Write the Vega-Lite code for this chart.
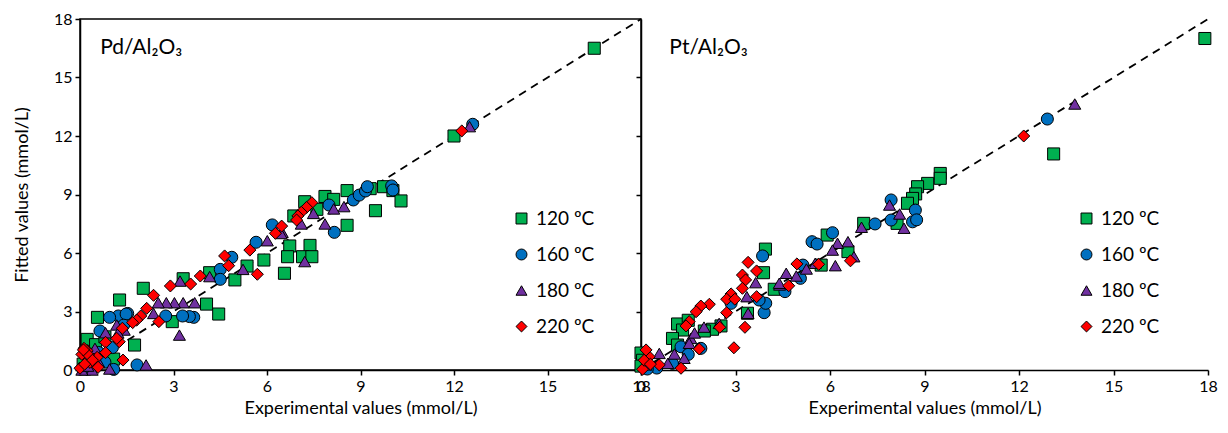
{
  "$schema": "https://vega.github.io/schema/vega-lite/v6.json",
  "background": "white",
  "padding": {"left": 12, "top": 10, "right": 5, "bottom": 5},
  "spacing": 0,
  "bounds": "flush",
  "config": {
    "view": {"stroke": null},
    "font": "Lato",
    "axis": {
      "grid": false,
      "domainColor": "black",
      "domainWidth": 1.5,
      "tickColor": "black",
      "tickWidth": 1.5,
      "tickSize": 5,
      "labelColor": "black",
      "labelFont": "Lato",
      "labelFontSize": 16,
      "labelPadding": 3,
      "labelFlush": false,
      "labelOverlap": false,
      "titleFont": "Lato",
      "titleFontSize": 18,
      "titleFontWeight": "normal",
      "titleColor": "black"
    },
    "legend": {
      "orient": "none",
      "title": null,
      "padding": 0,
      "labelFont": "Lato",
      "labelFontSize": 19,
      "labelColor": "black",
      "labelOffset": 5,
      "symbolSize": 120,
      "symbolStrokeColor": "black",
      "symbolStrokeWidth": 1,
      "rowPadding": 16
    }
  },
  "datasets": {
    "diag": [{"x": 0, "y": 0}, {"x": 18, "y": 18}],
    "pd": [
      {"T": "120 ºC", "x": 16.5, "y": 16.5}, {"T": "120 ºC", "x": 12.0, "y": 12.0}, {"T": "120 ºC", "x": 8.57, "y": 9.2}, {"T": "120 ºC", "x": 9.31, "y": 9.3}, {"T": "120 ºC", "x": 9.74, "y": 9.4}, {"T": "120 ºC", "x": 10.04, "y": 9.2}, {"T": "120 ºC", "x": 10.3, "y": 8.67}, {"T": "120 ºC", "x": 9.48, "y": 8.17}, {"T": "120 ºC", "x": 7.86, "y": 8.9}, {"T": "120 ºC", "x": 8.14, "y": 8.75}, {"T": "120 ºC", "x": 7.21, "y": 8.63}, {"T": "120 ºC", "x": 7.6, "y": 8.24}, {"T": "120 ºC", "x": 6.86, "y": 7.9}, {"T": "120 ºC", "x": 8.57, "y": 7.42}, {"T": "120 ºC", "x": 6.73, "y": 6.36}, {"T": "120 ºC", "x": 7.38, "y": 6.39}, {"T": "120 ºC", "x": 6.66, "y": 5.81}, {"T": "120 ºC", "x": 7.14, "y": 5.81}, {"T": "120 ºC", "x": 7.44, "y": 5.81}, {"T": "120 ºC", "x": 6.56, "y": 4.96}, {"T": "120 ºC", "x": 5.9, "y": 5.64}, {"T": "120 ºC", "x": 5.36, "y": 5.33}, {"T": "120 ºC", "x": 4.97, "y": 4.62}, {"T": "120 ºC", "x": 4.16, "y": 4.99}, {"T": "120 ºC", "x": 4.06, "y": 3.38}, {"T": "120 ºC", "x": 4.45, "y": 2.87}, {"T": "120 ºC", "x": 2.96, "y": 2.48}, {"T": "120 ºC", "x": 3.31, "y": 4.68}, {"T": "120 ºC", "x": 2.03, "y": 4.19}, {"T": "120 ºC", "x": 1.27, "y": 3.59}, {"T": "120 ºC", "x": 0.56, "y": 2.7}, {"T": "120 ºC", "x": 0.23, "y": 1.57}, {"T": "120 ºC", "x": 1.75, "y": 1.28}, {"T": "120 ºC", "x": 1.08, "y": 0.56}, {"T": "120 ºC", "x": 0.5, "y": 1.3}, {"T": "120 ºC", "x": 0.3, "y": 0.8}, {"T": "120 ºC", "x": 0.1, "y": 0.3}, {"T": "120 ºC", "x": 0.8, "y": 1.7}, {"T": "120 ºC", "x": 0.15, "y": 0.05},
      {"T": "160 ºC", "x": 12.6, "y": 12.6}, {"T": "160 ºC", "x": 8.77, "y": 8.72}, {"T": "160 ºC", "x": 8.96, "y": 8.97}, {"T": "160 ºC", "x": 9.16, "y": 9.18}, {"T": "160 ºC", "x": 9.22, "y": 9.4}, {"T": "160 ºC", "x": 10.0, "y": 9.44}, {"T": "160 ºC", "x": 10.04, "y": 9.23}, {"T": "160 ºC", "x": 7.99, "y": 8.46}, {"T": "160 ºC", "x": 8.16, "y": 7.06}, {"T": "160 ºC", "x": 6.17, "y": 7.44}, {"T": "160 ºC", "x": 5.65, "y": 6.55}, {"T": "160 ºC", "x": 4.87, "y": 5.78}, {"T": "160 ºC", "x": 4.5, "y": 5.16}, {"T": "160 ºC", "x": 4.5, "y": 4.65}, {"T": "160 ºC", "x": 3.65, "y": 2.7}, {"T": "160 ºC", "x": 3.51, "y": 2.74}, {"T": "160 ºC", "x": 3.29, "y": 2.77}, {"T": "160 ºC", "x": 2.75, "y": 2.77}, {"T": "160 ºC", "x": 1.53, "y": 2.9}, {"T": "160 ºC", "x": 1.23, "y": 2.77}, {"T": "160 ºC", "x": 0.95, "y": 2.7}, {"T": "160 ºC", "x": 0.64, "y": 2.0}, {"T": "160 ºC", "x": 1.04, "y": 1.15}, {"T": "160 ºC", "x": 1.83, "y": 0.26}, {"T": "160 ºC", "x": 1.08, "y": 0.03}, {"T": "160 ºC", "x": 1.48, "y": 2.87}, {"T": "160 ºC", "x": 0.3, "y": 0.5}, {"T": "160 ºC", "x": 0.6, "y": 0.9}, {"T": "160 ºC", "x": 0.2, "y": 0.1}, {"T": "160 ºC", "x": 0.8, "y": 0.4}, {"T": "160 ºC", "x": 1.4, "y": 2.3},
      {"T": "180 ºC", "x": 12.5, "y": 12.48}, {"T": "180 ºC", "x": 8.47, "y": 8.38}, {"T": "180 ºC", "x": 8.14, "y": 8.26}, {"T": "180 ºC", "x": 7.86, "y": 7.49}, {"T": "180 ºC", "x": 7.49, "y": 8.03}, {"T": "180 ºC", "x": 7.1, "y": 7.49}, {"T": "180 ºC", "x": 7.21, "y": 5.56}, {"T": "180 ºC", "x": 6.49, "y": 7.06}, {"T": "180 ºC", "x": 6.01, "y": 6.63}, {"T": "180 ºC", "x": 5.23, "y": 5.16}, {"T": "180 ºC", "x": 4.16, "y": 4.79}, {"T": "180 ºC", "x": 3.21, "y": 4.56}, {"T": "180 ºC", "x": 3.68, "y": 3.45}, {"T": "180 ºC", "x": 3.31, "y": 3.45}, {"T": "180 ºC", "x": 3.03, "y": 3.45}, {"T": "180 ºC", "x": 2.77, "y": 3.45}, {"T": "180 ºC", "x": 2.51, "y": 3.45}, {"T": "180 ºC", "x": 2.36, "y": 2.9}, {"T": "180 ºC", "x": 3.19, "y": 1.79}, {"T": "180 ºC", "x": 1.42, "y": 2.05}, {"T": "180 ºC", "x": 1.18, "y": 2.31}, {"T": "180 ºC", "x": 0.82, "y": 1.91}, {"T": "180 ºC", "x": 0.48, "y": 1.11}, {"T": "180 ºC", "x": 2.12, "y": 0.26}, {"T": "180 ºC", "x": 0.95, "y": 0.05}, {"T": "180 ºC", "x": 0.39, "y": 0.0}, {"T": "180 ºC", "x": 0.06, "y": 0.0}, {"T": "180 ºC", "x": 1.22, "y": 1.9}, {"T": "180 ºC", "x": 0.6, "y": 0.4}, {"T": "180 ºC", "x": 0.25, "y": 0.2}, {"T": "180 ºC", "x": 6.45, "y": 7.0},
      {"T": "220 ºC", "x": 12.25, "y": 12.26}, {"T": "220 ºC", "x": 7.44, "y": 8.58}, {"T": "220 ºC", "x": 7.27, "y": 8.34}, {"T": "220 ºC", "x": 7.1, "y": 8.09}, {"T": "220 ºC", "x": 6.99, "y": 7.9}, {"T": "220 ºC", "x": 6.95, "y": 7.69}, {"T": "220 ºC", "x": 6.47, "y": 7.38}, {"T": "220 ºC", "x": 6.27, "y": 7.01}, {"T": "220 ºC", "x": 5.45, "y": 6.15}, {"T": "220 ºC", "x": 4.64, "y": 5.85}, {"T": "220 ºC", "x": 4.77, "y": 5.35}, {"T": "220 ºC", "x": 5.69, "y": 4.91}, {"T": "220 ºC", "x": 3.55, "y": 4.41}, {"T": "220 ºC", "x": 3.86, "y": 4.82}, {"T": "220 ºC", "x": 2.9, "y": 4.31}, {"T": "220 ºC", "x": 2.36, "y": 3.83}, {"T": "220 ºC", "x": 2.14, "y": 3.16}, {"T": "220 ºC", "x": 2.53, "y": 2.48}, {"T": "220 ºC", "x": 1.95, "y": 2.77}, {"T": "220 ºC", "x": 1.82, "y": 2.56}, {"T": "220 ºC", "x": 1.69, "y": 2.43}, {"T": "220 ºC", "x": 1.36, "y": 2.14}, {"T": "220 ºC", "x": 1.26, "y": 1.45}, {"T": "220 ºC", "x": 0.82, "y": 1.42}, {"T": "220 ºC", "x": 0.82, "y": 0.89}, {"T": "220 ºC", "x": 0.55, "y": 0.65}, {"T": "220 ºC", "x": 0.58, "y": 0.14}, {"T": "220 ºC", "x": 0.32, "y": 0.39}, {"T": "220 ºC", "x": 0.23, "y": 0.99}, {"T": "220 ºC", "x": 0.13, "y": 1.11}, {"T": "220 ºC", "x": 0.06, "y": 0.8}, {"T": "220 ºC", "x": 0.0, "y": 0.09}, {"T": "220 ºC", "x": 1.38, "y": 0.51}, {"T": "220 ºC", "x": 1.18, "y": 1.62}, {"T": "220 ºC", "x": 0.27, "y": 0.77}, {"T": "220 ºC", "x": 0.11, "y": 1.03}, {"T": "220 ºC", "x": 0.4, "y": 0.5}, {"T": "220 ºC", "x": 0.15, "y": 0.3}
    ],
    "pt": [
      {"T": "120 ºC", "x": 17.9, "y": 17.0}, {"T": "120 ºC", "x": 13.1, "y": 11.08}, {"T": "120 ºC", "x": 9.5, "y": 10.08}, {"T": "120 ºC", "x": 9.5, "y": 9.83}, {"T": "120 ºC", "x": 9.1, "y": 9.57}, {"T": "120 ºC", "x": 8.78, "y": 9.4}, {"T": "120 ºC", "x": 8.72, "y": 9.03}, {"T": "120 ºC", "x": 8.62, "y": 8.8}, {"T": "120 ºC", "x": 8.46, "y": 8.55}, {"T": "120 ºC", "x": 8.13, "y": 7.52}, {"T": "120 ºC", "x": 7.07, "y": 7.52}, {"T": "120 ºC", "x": 5.91, "y": 6.92}, {"T": "120 ºC", "x": 6.57, "y": 6.07}, {"T": "120 ºC", "x": 5.72, "y": 5.38}, {"T": "120 ºC", "x": 3.95, "y": 6.2}, {"T": "120 ºC", "x": 3.89, "y": 4.99}, {"T": "120 ºC", "x": 4.23, "y": 4.14}, {"T": "120 ºC", "x": 3.38, "y": 2.91}, {"T": "120 ºC", "x": 2.54, "y": 2.26}, {"T": "120 ºC", "x": 2.27, "y": 2.09}, {"T": "120 ºC", "x": 2.01, "y": 2.0}, {"T": "120 ºC", "x": 1.16, "y": 2.36}, {"T": "120 ºC", "x": 1.32, "y": 2.05}, {"T": "120 ºC", "x": 1.0, "y": 1.62}, {"T": "120 ºC", "x": 1.16, "y": 1.28}, {"T": "120 ºC", "x": 1.5, "y": 2.55}, {"T": "120 ºC", "x": 0.0, "y": 0.87}, {"T": "120 ºC", "x": 0.05, "y": 0.5}, {"T": "120 ºC", "x": 0.0, "y": 0.2},
      {"T": "160 ºC", "x": 12.9, "y": 12.87}, {"T": "160 ºC", "x": 7.94, "y": 8.72}, {"T": "160 ºC", "x": 8.71, "y": 8.2}, {"T": "160 ºC", "x": 8.62, "y": 7.6}, {"T": "160 ºC", "x": 8.75, "y": 7.7}, {"T": "160 ºC", "x": 7.94, "y": 7.69}, {"T": "160 ºC", "x": 7.43, "y": 7.49}, {"T": "160 ºC", "x": 6.08, "y": 7.04}, {"T": "160 ºC", "x": 5.43, "y": 6.58}, {"T": "160 ºC", "x": 5.59, "y": 6.46}, {"T": "160 ºC", "x": 5.14, "y": 5.38}, {"T": "160 ºC", "x": 5.06, "y": 4.7}, {"T": "160 ºC", "x": 4.57, "y": 4.02}, {"T": "160 ºC", "x": 3.86, "y": 5.85}, {"T": "160 ºC", "x": 3.91, "y": 2.94}, {"T": "160 ºC", "x": 3.96, "y": 3.42}, {"T": "160 ºC", "x": 3.75, "y": 3.59}, {"T": "160 ºC", "x": 2.86, "y": 3.42}, {"T": "160 ºC", "x": 1.9, "y": 1.11}, {"T": "160 ºC", "x": 1.27, "y": 1.19}, {"T": "160 ºC", "x": 1.0, "y": 0.34}, {"T": "160 ºC", "x": 0.5, "y": 0.1}, {"T": "160 ºC", "x": 0.2, "y": 0.05}, {"T": "160 ºC", "x": 1.5, "y": 0.8},
      {"T": "180 ºC", "x": 13.77, "y": 13.64}, {"T": "180 ºC", "x": 7.89, "y": 8.46}, {"T": "180 ºC", "x": 8.21, "y": 8.0}, {"T": "180 ºC", "x": 8.35, "y": 7.27}, {"T": "180 ºC", "x": 7.0, "y": 7.32}, {"T": "180 ºC", "x": 6.57, "y": 6.58}, {"T": "180 ºC", "x": 6.24, "y": 6.5}, {"T": "180 ºC", "x": 6.08, "y": 6.15}, {"T": "180 ºC", "x": 6.76, "y": 5.81}, {"T": "180 ºC", "x": 6.17, "y": 5.35}, {"T": "180 ºC", "x": 5.53, "y": 5.47}, {"T": "180 ºC", "x": 5.25, "y": 5.18}, {"T": "180 ºC", "x": 4.93, "y": 4.82}, {"T": "180 ºC", "x": 4.61, "y": 4.96}, {"T": "180 ºC", "x": 4.4, "y": 4.36}, {"T": "180 ºC", "x": 3.64, "y": 4.48}, {"T": "180 ºC", "x": 4.39, "y": 4.45}, {"T": "180 ºC", "x": 3.36, "y": 3.76}, {"T": "180 ºC", "x": 3.4, "y": 2.91}, {"T": "180 ºC", "x": 2.48, "y": 2.39}, {"T": "180 ºC", "x": 1.58, "y": 1.62}, {"T": "180 ºC", "x": 1.53, "y": 1.37}, {"T": "180 ºC", "x": 1.06, "y": 0.82}, {"T": "180 ºC", "x": 0.58, "y": 0.85}, {"T": "180 ºC", "x": 0.85, "y": 0.34}, {"T": "180 ºC", "x": 1.37, "y": 0.6}, {"T": "180 ºC", "x": 0.16, "y": 0.26}, {"T": "180 ºC", "x": 1.7, "y": 1.9}, {"T": "180 ºC", "x": 2.0, "y": 2.2},
      {"T": "220 ºC", "x": 12.15, "y": 12.0}, {"T": "220 ºC", "x": 6.65, "y": 5.6}, {"T": "220 ºC", "x": 5.64, "y": 5.42}, {"T": "220 ºC", "x": 4.95, "y": 5.44}, {"T": "220 ºC", "x": 4.69, "y": 4.32}, {"T": "220 ºC", "x": 3.4, "y": 5.52}, {"T": "220 ºC", "x": 3.22, "y": 4.87}, {"T": "220 ºC", "x": 3.67, "y": 5.08}, {"T": "220 ºC", "x": 3.32, "y": 4.62}, {"T": "220 ºC", "x": 2.86, "y": 3.9}, {"T": "220 ºC", "x": 2.72, "y": 3.63}, {"T": "220 ºC", "x": 2.98, "y": 3.63}, {"T": "220 ºC", "x": 3.22, "y": 4.19}, {"T": "220 ºC", "x": 3.67, "y": 3.76}, {"T": "220 ºC", "x": 2.72, "y": 2.94}, {"T": "220 ºC", "x": 2.17, "y": 3.37}, {"T": "220 ºC", "x": 1.9, "y": 3.28}, {"T": "220 ºC", "x": 1.75, "y": 2.99}, {"T": "220 ºC", "x": 1.53, "y": 2.48}, {"T": "220 ºC", "x": 1.43, "y": 2.26}, {"T": "220 ºC", "x": 3.3, "y": 2.19}, {"T": "220 ºC", "x": 2.5, "y": 2.19}, {"T": "220 ºC", "x": 2.95, "y": 1.14}, {"T": "220 ºC", "x": 1.85, "y": 1.08}, {"T": "220 ºC", "x": 1.27, "y": 0.09}, {"T": "220 ºC", "x": 0.58, "y": 0.26}, {"T": "220 ºC", "x": 0.26, "y": 0.68}, {"T": "220 ºC", "x": 0.05, "y": 0.04}, {"T": "220 ºC", "x": 0.16, "y": 1.03}, {"T": "220 ºC", "x": 0.1, "y": 0.5}, {"T": "220 ºC", "x": 0.3, "y": 0.3}
    ]
  },
  "resolve": {
    "scale": {"color": "independent", "shape": "independent", "x": "independent", "y": "independent"},
    "legend": {"color": "independent", "shape": "independent"}
  },
  "hconcat": [
    {
      "width": 561,
      "height": 351,
      "view": {"stroke": "black", "strokeWidth": 1.5},
      "encoding": {
        "x": {"field": "x", "type": "quantitative", "scale": {"domain": [0, 18], "nice": false}, "axis": {"values": [0, 3, 6, 9, 12, 15, 18], "title": "Experimental values (mmol/L)", "titlePadding": 5}},
        "y": {"field": "y", "type": "quantitative", "scale": {"domain": [0, 18], "nice": false}, "axis": {"values": [0, 3, 6, 9, 12, 15, 18], "title": "Fitted values (mmol/L)", "titlePadding": 22}}
      },
      "layer": [
        {"data": {"name": "diag"}, "mark": {"type": "line", "color": "black", "strokeDash": [8, 6], "strokeWidth": 1.8}},
        {
          "data": {"name": "pd"},
          "mark": {"type": "point", "filled": true, "stroke": "black", "strokeWidth": 1, "size": 145, "opacity": 1},
          "encoding": {
            "color": {"field": "T", "type": "nominal", "scale": {"domain": ["120 ºC", "160 ºC", "180 ºC", "220 ºC"], "range": ["#00B050", "#0070C0", "#7030A0", "#FF0000"]}, "legend": {"legendX": 432, "legendY": 190}},
            "shape": {"field": "T", "type": "nominal", "scale": {"domain": ["120 ºC", "160 ºC", "180 ºC", "220 ºC"], "range": ["square", "circle", "triangle-up", "diamond"]}, "legend": {"legendX": 432, "legendY": 190}}
          }
        },
        {
          "data": {"values": [{"x": 0.65, "y": 16.5, "label": "Pd/Al₂O₃"}]},
          "mark": {"type": "text", "align": "left", "baseline": "middle", "fontSize": 21, "font": "Lato", "color": "black"},
          "encoding": {"text": {"field": "label"}}
        }
      ]
    },
    {
      "width": 567,
      "height": 351,
      "encoding": {
        "x": {"field": "x", "type": "quantitative", "scale": {"domain": [0, 18], "nice": false}, "axis": {"values": [0, 3, 6, 9, 12, 15, 18], "title": "Experimental values (mmol/L)", "titlePadding": 5}},
        "y": {"field": "y", "type": "quantitative", "scale": {"domain": [0, 18], "nice": false}, "axis": {"values": [3, 6, 9, 12, 15], "labels": false, "title": null}}
      },
      "layer": [
        {"data": {"name": "diag"}, "mark": {"type": "line", "color": "black", "strokeDash": [8, 6], "strokeWidth": 1.8}},
        {
          "data": {"name": "pt"},
          "mark": {"type": "point", "filled": true, "stroke": "black", "strokeWidth": 1, "size": 145, "opacity": 1},
          "encoding": {
            "color": {"field": "T", "type": "nominal", "scale": {"domain": ["120 ºC", "160 ºC", "180 ºC", "220 ºC"], "range": ["#00B050", "#0070C0", "#7030A0", "#FF0000"]}, "legend": {"legendX": 436, "legendY": 190}},
            "shape": {"field": "T", "type": "nominal", "scale": {"domain": ["120 ºC", "160 ºC", "180 ºC", "220 ºC"], "range": ["square", "circle", "triangle-up", "diamond"]}, "legend": {"legendX": 436, "legendY": 190}}
          }
        },
        {
          "data": {"values": [{"x": 0.9, "y": 16.5, "label": "Pt/Al₂O₃"}]},
          "mark": {"type": "text", "align": "left", "baseline": "middle", "fontSize": 21, "font": "Lato", "color": "black"},
          "encoding": {"text": {"field": "label"}}
        }
      ]
    }
  ]
}
